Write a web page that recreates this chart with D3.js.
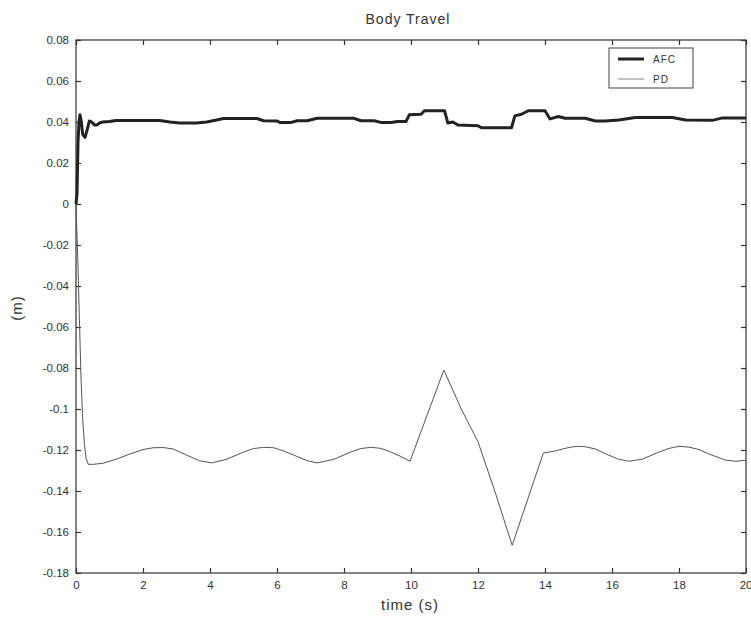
<!DOCTYPE html>
<html>
<head>
<meta charset="utf-8">
<script src="https://cdn.jsdelivr.net/npm/d3@7"></script>
<style>
  html, body { margin: 0; padding: 0; background: #fff; }
  svg { display: block; }
  text { font-family: "Liberation Sans", Arial, Helvetica, sans-serif; fill: #333; }
</style>
</head>
<body>
<script>
// ---- data ----
const title = "Body Travel";
const xLabel = "time (s)";
const yLabel = "(m)";
const seriesNames = ["AFC", "PD"];
const xTicks = [0, 2, 4, 6, 8, 10, 12, 14, 16, 18, 20];
const yTicks = [0.08, 0.06, 0.04, 0.02, 0, -0.02, -0.04, -0.06, -0.08, -0.1, -0.12, -0.14, -0.16, -0.18];

const afcTime = [0, 0.03, 0.06, 0.09, 0.12, 0.16, 0.2, 0.27, 0.33, 0.4, 0.47, 0.55, 0.62, 0.7, 0.8, 1.0, 1.2, 2.5, 2.8, 3.1, 3.6, 3.9, 4.2, 4.4, 5.4, 5.6, 6.0, 6.1, 6.4, 6.6, 6.9, 7.2, 8.3, 8.5, 8.9, 9.1, 9.4, 9.6, 9.85, 9.95, 10.3, 10.4, 11.0, 11.1, 11.25, 11.4, 12.0, 12.1, 13.0, 13.1, 13.3, 13.5, 14.0, 14.15, 14.4, 14.6, 15.2, 15.5, 15.8, 16.2, 16.7, 17.8, 18.2, 19.0, 19.3, 20];
const afcValues = [0, 0.005, 0.030, 0.040, 0.0435, 0.040, 0.034, 0.0325, 0.036, 0.0405, 0.040, 0.0385, 0.0385, 0.0395, 0.040, 0.0402, 0.0407, 0.0407, 0.040, 0.0395, 0.0395, 0.040, 0.041, 0.0417, 0.0417, 0.0406, 0.0405, 0.0397, 0.0397, 0.0406, 0.0406, 0.0418, 0.0418, 0.0406, 0.0406, 0.0398, 0.0398, 0.0402, 0.0402, 0.0435, 0.0438, 0.0455, 0.0455, 0.0395, 0.040, 0.0385, 0.0382, 0.0372, 0.0372, 0.043, 0.0438, 0.0455, 0.0455, 0.0415, 0.0427, 0.0418, 0.0418, 0.0405, 0.0405, 0.041, 0.0422, 0.0422, 0.041, 0.0408, 0.042, 0.042];

const pdTime = [0, 0.05, 0.1, 0.15, 0.2, 0.25, 0.3, 0.37, 0.5, 0.8, 1.2, 1.6, 2.0, 2.3, 2.6, 2.9, 3.3, 3.7, 4.05, 4.5, 5.0, 5.3, 5.6, 5.9, 6.2, 6.5, 6.9, 7.2, 7.7, 8.2, 8.5, 8.8, 9.1, 9.4, 9.7, 9.97, 10.98, 11.5, 12.0, 12.5, 13.02, 13.95, 14.3, 14.6, 14.8, 15.0, 15.2, 15.5, 15.9, 16.2, 16.5, 16.9, 17.4, 17.7, 18.0, 18.3, 18.6, 18.9, 19.4, 19.7, 20];
const pdValues = [0, -0.025, -0.055, -0.085, -0.105, -0.117, -0.124, -0.127, -0.127, -0.1265, -0.1245, -0.122, -0.1198, -0.1189, -0.1188, -0.1195, -0.1225, -0.1253, -0.1263, -0.1245, -0.121, -0.1193, -0.1187, -0.1189, -0.1205, -0.1225, -0.1252, -0.1263, -0.1245, -0.121, -0.1193, -0.1187, -0.1192, -0.121, -0.1232, -0.1255, -0.081, -0.1, -0.116, -0.14, -0.1665, -0.1215, -0.1205, -0.1192, -0.1185, -0.1182, -0.1184, -0.1195, -0.1225, -0.1245, -0.1255, -0.1245, -0.121, -0.1192, -0.1182, -0.1186, -0.1198, -0.122, -0.125, -0.1255, -0.125];

// ---- layout ----
const W = 751, H = 620;
const m = { left: 76, right: 5, top: 40, bottom: 47 };
const pw = W - m.left - m.right, ph = H - m.top - m.bottom;

const svg = d3.select("body").append("svg").attr("width", W).attr("height", H);
const x = d3.scaleLinear().domain([0, 20]).range([m.left, m.left + pw]);
const y = d3.scaleLinear().domain([-0.18, 0.08]).range([m.top + ph, m.top]);

const fmt = d => d === 0 ? "0" : String(+d.toFixed(2));
const axisColor = "#333";

// plot frame
svg.append("rect").attr("x", m.left).attr("y", m.top).attr("width", pw).attr("height", ph)
  .attr("fill", "none").attr("stroke", axisColor).attr("stroke-width", 1.2);

// axes with inward ticks
const tickLen = 5;
const gx = svg.append("g").attr("transform", `translate(0,${m.top + ph})`)
  .call(d3.axisBottom(x).tickValues(xTicks).tickFormat(fmt).tickSizeInner(-tickLen).tickSizeOuter(0).tickPadding(8));
const gxt = svg.append("g").attr("transform", `translate(0,${m.top})`)
  .call(d3.axisTop(x).tickValues(xTicks).tickFormat("").tickSizeInner(-tickLen).tickSizeOuter(0));
const gy = svg.append("g").attr("transform", `translate(${m.left},0)`)
  .call(d3.axisLeft(y).tickValues(yTicks).tickFormat(fmt).tickSizeInner(-tickLen).tickSizeOuter(0).tickPadding(7));
const gyr = svg.append("g").attr("transform", `translate(${m.left + pw},0)`)
  .call(d3.axisRight(y).tickValues(yTicks).tickFormat("").tickSizeInner(-tickLen).tickSizeOuter(0));

[gx, gxt, gy, gyr].forEach(g => {
  g.select(".domain").remove();
  g.selectAll(".tick line").attr("stroke", axisColor).attr("stroke-width", 1.2);
  g.selectAll(".tick text").attr("fill", "#333").style("font-size", "11.5px")
    .style("font-family", "'Liberation Sans', Arial, sans-serif");
});
// keep the last x label inside the window
gx.selectAll(".tick text").filter(d => d === 20).attr("text-anchor", "end").attr("dx", "6");

// lines
const line = d3.line().x(d => x(d[0])).y(d => y(d[1])).curve(d3.curveLinear);
const pdData = pdTime.map((t, i) => [t, pdValues[i]]);
const afcData = afcTime.map((t, i) => [t, afcValues[i]]);

svg.append("path").datum(pdData).attr("d", line)
  .attr("fill", "none").attr("stroke", "#555").attr("stroke-width", 1).attr("stroke-linejoin", "round");
svg.append("path").datum(afcData).attr("d", line)
  .attr("fill", "none").attr("stroke", "#222").attr("stroke-width", 3).attr("stroke-linejoin", "round");

// title & labels
svg.append("text").attr("x", 408).attr("y", 24).attr("text-anchor", "middle")
  .style("font-size", "14px").style("letter-spacing", "1px").text(title);
svg.append("text").attr("x", 410).attr("y", 610).attr("text-anchor", "middle")
  .style("font-size", "15px").style("letter-spacing", "1px").text(xLabel);
svg.append("text").attr("transform", `translate(22,308) rotate(-90)`).attr("text-anchor", "middle")
  .style("font-size", "15px").style("letter-spacing", "1px").text(yLabel);

// legend
const lg = svg.append("g");
lg.append("rect").attr("x", 609).attr("y", 48).attr("width", 84).attr("height", 40)
  .attr("fill", "#fff").attr("stroke", "#444").attr("stroke-width", 1);
const legendStyles = [{ c: "#222", w: 3 }, { c: "#888", w: 1 }];
seriesNames.forEach((name, i) => {
  const ly = 59 + i * 20;
  lg.append("line").attr("x1", 618).attr("x2", 644).attr("y1", ly).attr("y2", ly)
    .attr("stroke", legendStyles[i].c).attr("stroke-width", legendStyles[i].w);
  lg.append("text").attr("x", 653).attr("y", ly + 4).style("font-size", "10px")
    .style("letter-spacing", "1px").text(name);
});
</script>
</body>
</html>
